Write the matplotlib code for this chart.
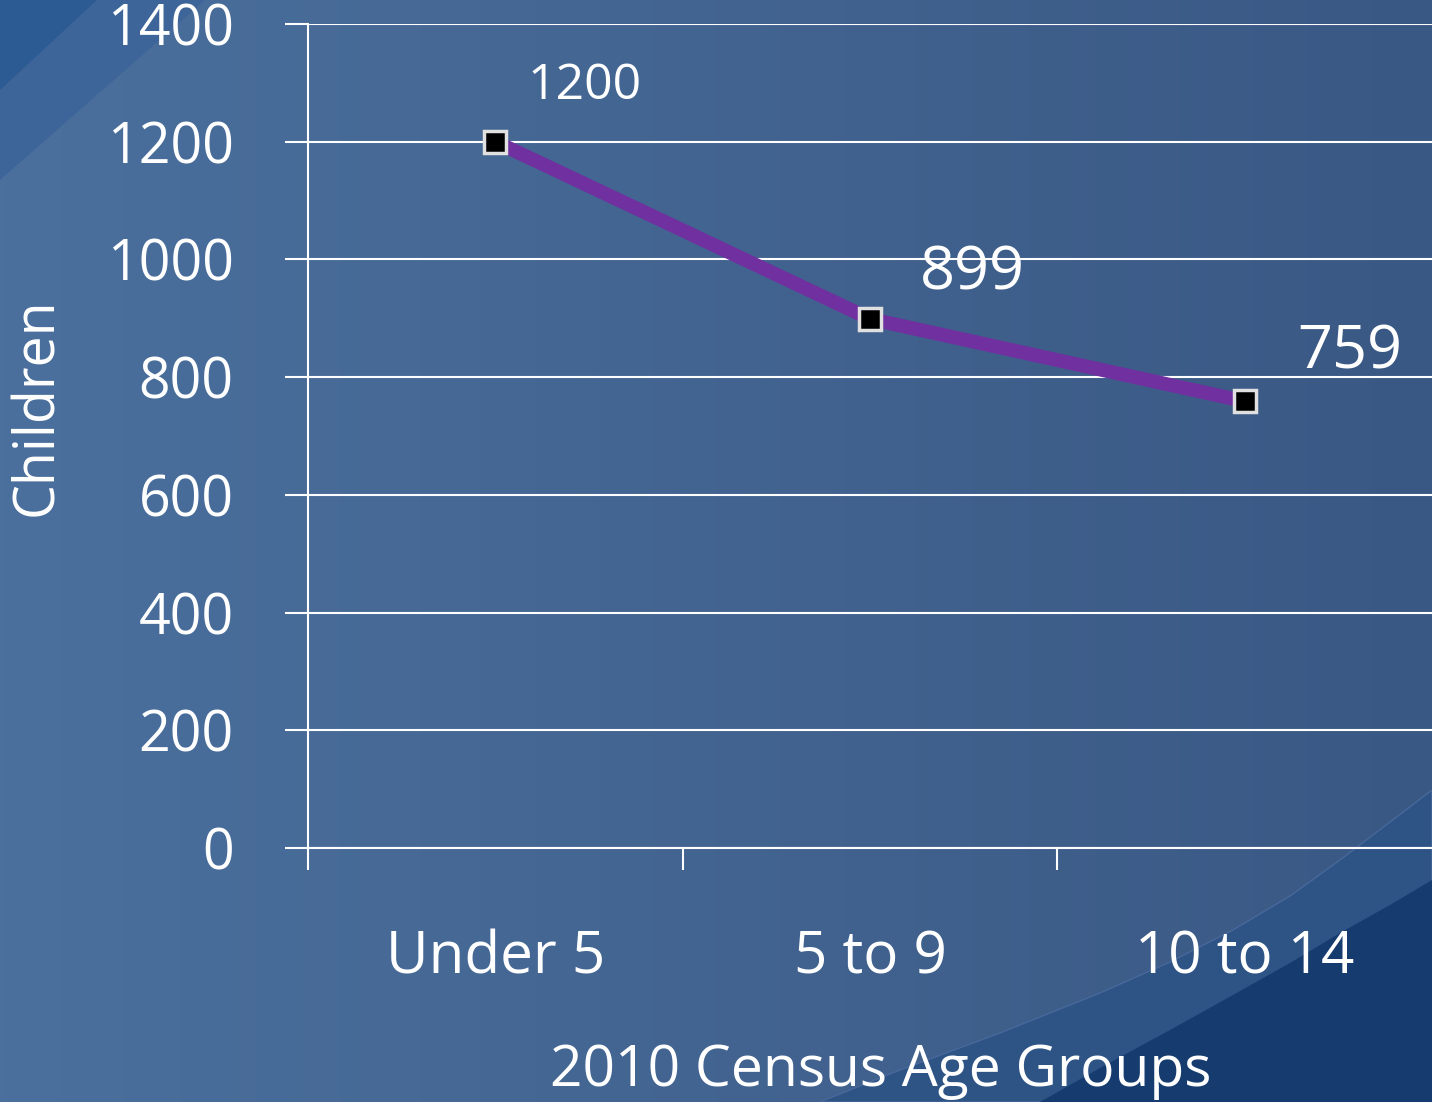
import numpy as np
import matplotlib
matplotlib.use('Agg')
import matplotlib.pyplot as plt
from matplotlib.patches import Polygon

plt.rcParams['font.family'] = ['Open Sans', 'DejaVu Sans']

groups = ['Under 5', '5 to 9', '10 to 14']
children = [1200, 899, 759]
yticks = [0, 200, 400, 600, 800, 1000, 1200, 1400]
label_offsets = [(64, 40), (74, 33), (76, 35)]
label_sizes = [36, 44, 44]

W, H = 1432, 1102
fig = plt.figure(figsize=(W / 100, H / 100), dpi=100)


def fig_pts(pts):
    # pixel coords (from top-left) -> figure fraction
    return [(px / W, 1 - py / H) for px, py in pts]


# background: soft horizontal gradient plus decorative bands
bg = fig.add_axes([0, 0, 1, 1])
bg.set_xlim(0, 1)
bg.set_ylim(0, 1)
bg.axis('off')
left = np.array([0x4b, 0x70, 0x9d]) / 255
right = np.array([0x3a, 0x58, 0x84]) / 255
t = np.linspace(0, 1, 256)
grad = left[None, :] * (1 - t[:, None]) + right[None, :] * t[:, None]
bg.imshow(grad[None, :, :], extent=(0, 1, 0, 1), aspect='auto', zorder=0)

bg.add_patch(Polygon(fig_pts([(0, 0), (205, 0), (0, 180)]),
                     facecolor='#3d6599', edgecolor='none', zorder=1))
bg.add_patch(Polygon(fig_pts([(0, 0), (97, 0), (0, 90)]),
                     facecolor='#2c5a92', edgecolor='none', zorder=2))

light_band = [(820, 1102), (900, 1070), (1000, 1033), (1100, 993),
              (1170, 962), (1233, 930), (1290, 896), (1340, 860),
              (1390, 822), (1432, 790), (1432, 1102)]
bg.add_patch(Polygon(fig_pts(light_band), facecolor='#2e5385',
                     edgecolor='#47689a', linewidth=1, zorder=1))
dark_band = [(1040, 1102), (1100, 1068), (1170, 1030), (1233, 995),
             (1290, 963), (1340, 933), (1390, 905), (1432, 880),
             (1432, 1102)]
bg.add_patch(Polygon(fig_pts(dark_band), facecolor='#163b6f',
                     edgecolor='none', zorder=2))

ax = fig.add_axes([308 / W, 1 - 848 / H, (W - 308) / W, (848 - 24) / H])
ax.set_facecolor('none')
x = np.arange(len(groups))
ax.plot(x, children, color='#7030a0', linewidth=10, zorder=3,
        marker='s', markersize=16, markerfacecolor='black',
        markeredgecolor='#e0e0e0', markeredgewidth=2.5)

for xi, yi, off, fs in zip(x, children, label_offsets, label_sizes):
    ax.annotate(str(yi), (xi, yi), xytext=off, textcoords='offset points',
                ha='center', va='center', color='white', fontsize=fs)

ax.set_xlim(-0.5, 2.5)
ax.set_ylim(0, 1400)
ax.set_yticks(yticks)
ax.set_yticklabels([str(v) for v in yticks])
ax.grid(axis='y', color='white', linewidth=1.5)
ax.set_axisbelow(True)
ax.tick_params(axis='y', colors='white', length=16.5, width=1.5,
               labelsize=40, pad=37)

ax.set_xticks([-0.5, 0.5, 1.5])
ax.set_xticklabels([])
ax.tick_params(axis='x', which='major', colors='white', length=16, width=1.5)
ax.set_xticks(x, minor=True)
ax.set_xticklabels(groups, minor=True)
ax.tick_params(axis='x', which='minor', length=0, labelsize=42,
               labelcolor='white', pad=58)

for side in ['top', 'right']:
    ax.spines[side].set_visible(False)
for side in ['left', 'bottom']:
    ax.spines[side].set_color('white')
    ax.spines[side].set_linewidth(1.5)

fig.text(38 / W, 1 - 407 / H, 'Children', rotation=90, ha='center',
         va='center', color='white', fontsize=40)
fig.text(881 / W, 1 - 1072 / H, '2010 Census Age Groups', ha='center',
         va='center', color='white', fontsize=41)

fig.savefig('out.png', dpi=100)
